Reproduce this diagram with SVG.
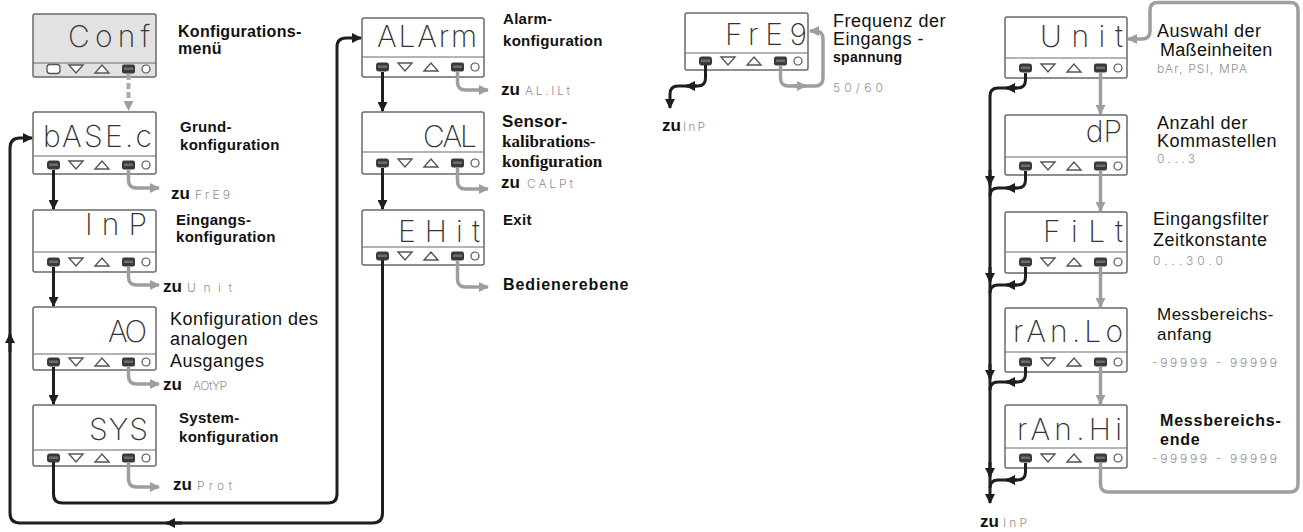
<svg xmlns="http://www.w3.org/2000/svg" xmlns:xlink="http://www.w3.org/1999/xlink" width="1303" height="532" viewBox="0 0 1303 532">
<style>
.box{fill:#fff;stroke:#6a6a6a;stroke-width:1.5}
.boxg{fill:#e2e2e2;stroke:#6a6a6a;stroke-width:1.5}
.dv{stroke:#6a6a6a;stroke-width:1.2}
.seg{font-family:Inter,"DejaVu Sans",sans-serif;font-weight:200;font-size:30px;fill:#333}
.lb{font-family:"Liberation Sans",Arial,sans-serif;font-weight:bold;font-size:15px;fill:#111;letter-spacing:0.3px}
.lr{font-family:"Liberation Sans",Arial,sans-serif;font-size:18px;fill:#111;letter-spacing:0.5px}
.ls{font-family:"Liberation Serif","Times New Roman",serif;font-weight:bold;font-size:17px;fill:#111}
.zu{font-family:"Liberation Sans",Arial,sans-serif;font-weight:bold;font-size:17px;fill:#111}
.gs{font-family:Inter,"DejaVu Sans",sans-serif;font-weight:300;font-size:12px;fill:#8f8f8f}
.k{fill:none;stroke:#1e1e1e;stroke-width:3}
.g{fill:none;stroke:#9e9e9e;stroke-width:3.5}
.tri{fill:#fff;stroke:#555;stroke-width:1.4}
.bt{fill:#3a3a3a}
</style>
<defs>
<marker id="ak" viewBox="0 0 10 10" refX="9" refY="5" markerWidth="11" markerHeight="10" markerUnits="userSpaceOnUse" orient="auto"><path d="M0,0 L10,5 L0,10 z" fill="#1e1e1e"/></marker>
<marker id="ag" viewBox="0 0 10 10" refX="9" refY="5" markerWidth="11" markerHeight="10" markerUnits="userSpaceOnUse" orient="auto"><path d="M0,0 L10,5 L0,10 z" fill="#9e9e9e"/></marker>
<g id="keys">
<path class="tri" d="M36,-4 L50,-4 L43,4 Z"/>
<path class="tri" d="M62,4 L76,4 L69,-4 Z"/>
<rect class="bt" x="89" y="-4.5" width="13" height="9" rx="2"/>
<rect x="91" y="-1.5" width="9" height="2.5" fill="#6e6e6e"/>
<circle cx="113" cy="0" r="4" fill="#fff" stroke="#555" stroke-width="1.2"/>
</g>
<g id="lkey">
<rect class="bt" x="14" y="-4.5" width="13" height="9" rx="3"/>
<rect x="16" y="-1.5" width="9" height="2.5" fill="#6e6e6e"/>
</g>
</defs>
<rect width="1303" height="532" fill="#fff"/>

<g id="n-conf">
<rect class="boxg" x="33" y="14" width="123" height="63" rx="2"/>
<line class="dv" x1="33" y1="63" x2="156" y2="63"/>
<text class="seg" x="68" y="47" textLength="82" lengthAdjust="spacing">Conf</text>
<rect x="47" y="64.5" width="13" height="9" rx="3" fill="#fff" stroke="#555" stroke-width="1.3"/>
<use xlink:href="#keys" x="33" y="69"/>
<text class="lb" x="178" y="37" style="font-size:16px">Konfigurations-</text>
<text class="lb" x="178" y="54" style="font-size:16px">menü</text>
</g>

<g id="n-base">
<rect class="box" x="33" y="112" width="123" height="62" rx="2"/>
<line class="dv" x1="33" y1="156" x2="156" y2="156"/>
<text class="seg" x="43" y="147" textLength="109" lengthAdjust="spacing">bASE.c</text>
<use xlink:href="#lkey" x="33" y="165"/><use xlink:href="#keys" x="33" y="165"/>
<text class="lb" x="180" y="132">Grund-</text>
<text class="lb" x="180" y="150">konfiguration</text>
<text class="zu" x="171" y="199">zu</text><text class="gs" x="195" y="199" textLength="35" lengthAdjust="spacing">FrE9</text>
</g>

<g id="n-inp">
<rect class="box" x="33" y="210" width="123" height="62" rx="2"/>
<line class="dv" x1="33" y1="252" x2="156" y2="252"/>
<text class="seg" x="85" y="235" textLength="62" lengthAdjust="spacing">InP</text>
<use xlink:href="#lkey" x="33" y="262"/><use xlink:href="#keys" x="33" y="262"/>
<text class="lb" x="176" y="225">Eingangs-</text>
<text class="lb" x="176" y="242">konfiguration</text>
<text class="zu" x="163" y="292">zu</text><text class="gs" x="187" y="292" textLength="45" lengthAdjust="spacing">Unit</text>
</g>

<g id="n-ao">
<rect class="box" x="33" y="307" width="123" height="63" rx="2"/>
<line class="dv" x1="33" y1="354" x2="156" y2="354"/>
<text class="seg" x="108" y="342" textLength="39" lengthAdjust="spacing">AO</text>
<use xlink:href="#lkey" x="33" y="362"/><use xlink:href="#keys" x="33" y="362"/>
<text class="lr" x="170" y="325">Konfiguration des</text>
<text class="lr" x="170" y="345">analogen</text>
<text class="lr" x="170" y="367">Ausganges</text>
<text class="zu" x="163" y="390">zu</text><text class="gs" x="193" y="390" textLength="34" lengthAdjust="spacing">AOtYP</text>
</g>

<g id="n-sys">
<rect class="box" x="33" y="405" width="123" height="61" rx="2"/>
<line class="dv" x1="33" y1="450" x2="156" y2="450"/>
<text class="seg" x="89" y="440" textLength="59" lengthAdjust="spacing">SYS</text>
<use xlink:href="#lkey" x="33" y="458"/><use xlink:href="#keys" x="33" y="458"/>
<text class="lb" x="179" y="423">System-</text>
<text class="lb" x="179" y="442">konfiguration</text>
<text class="zu" x="173" y="490">zu</text><text class="gs" x="197" y="490" textLength="35" lengthAdjust="spacing">Prot</text>
</g>

<g id="n-alarm">
<rect class="box" x="362" y="18" width="122" height="59" rx="2"/>
<line class="dv" x1="362" y1="57" x2="484" y2="57"/>
<text class="seg" x="377" y="47" textLength="100" lengthAdjust="spacing">ALArm</text>
<use xlink:href="#lkey" x="362" y="67"/><use xlink:href="#keys" x="362" y="67"/>
<text class="lb" x="503" y="24">Alarm-</text>
<text class="lb" x="503" y="46">konfiguration</text>
<text class="zu" x="501" y="95">zu</text><text class="gs" x="525" y="95" textLength="45" lengthAdjust="spacing">AL.ILt</text>
</g>

<g id="n-cal">
<rect class="box" x="362" y="112" width="122" height="62" rx="2"/>
<line class="dv" x1="362" y1="152" x2="484" y2="152"/>
<text class="seg" x="423" y="147" textLength="54" lengthAdjust="spacing">CAL</text>
<use xlink:href="#lkey" x="362" y="163"/><use xlink:href="#keys" x="362" y="163"/>
<text class="lb" x="502" y="127" style="font-size:17px">Sensor-</text>
<text class="ls" x="502" y="147">kalibrations-</text>
<text class="ls" x="502" y="167">konfiguration</text>
<text class="zu" x="501" y="188">zu</text><text class="gs" x="527" y="188" textLength="46" lengthAdjust="spacing">CALPt</text>
</g>

<g id="n-exit">
<rect class="box" x="362" y="210" width="122" height="55" rx="2"/>
<line class="dv" x1="362" y1="247" x2="484" y2="247"/>
<text class="seg" x="398" y="242" textLength="82" lengthAdjust="spacing">EHit</text>
<use xlink:href="#lkey" x="362" y="256"/><use xlink:href="#keys" x="362" y="256"/>
<text class="lb" x="503" y="225">Exit</text>
<text class="lb" x="503" y="290" style="font-size:16px;letter-spacing:0.9px">Bedienerebene</text>
</g>

<g id="n-freq">
<rect class="box" x="685" y="13" width="123" height="57" rx="2"/>
<line class="dv" x1="685" y1="53" x2="808" y2="53"/>
<text class="seg" x="725" y="45" textLength="82" lengthAdjust="spacing">FrE9</text>
<use xlink:href="#lkey" x="685" y="61"/><use xlink:href="#keys" x="685" y="61"/>
<text class="lr" x="833" y="27">Frequenz der</text>
<text class="lr" x="833" y="45">Eingangs -</text>
<text class="lb" x="833" y="62" style="font-size:14px">spannung</text>
<text class="gs" x="833" y="92" textLength="50" lengthAdjust="spacing">50/60</text>
<text class="zu" x="662" y="131">zu</text><text class="gs" x="683" y="131" textLength="22" lengthAdjust="spacing">InP</text>
</g>

<g id="n-unit">
<rect class="box" x="1005" y="17" width="122" height="61" rx="2"/>
<line class="dv" x1="1005" y1="58" x2="1127" y2="58"/>
<text class="seg" x="1040" y="47" textLength="83" lengthAdjust="spacing">Unit</text>
<use xlink:href="#lkey" x="1005" y="68"/><use xlink:href="#keys" x="1005" y="68"/>
<text class="lr" x="1157" y="37">Auswahl der</text>
<text class="lr" x="1160" y="56" style="letter-spacing:0.3px">Maßeinheiten</text>
<text class="gs" x="1157" y="73" textLength="90" lengthAdjust="spacing">bAr, PSI, MPA</text>
</g>

<g id="n-dp">
<rect class="box" x="1005" y="115" width="122" height="60" rx="2"/>
<line class="dv" x1="1005" y1="157" x2="1127" y2="157"/>
<text class="seg" x="1122" y="142" text-anchor="end">dP</text>
<use xlink:href="#lkey" x="1005" y="166"/><use xlink:href="#keys" x="1005" y="166"/>
<text class="lr" x="1157" y="129">Anzahl der</text>
<text class="lr" x="1157" y="147">Kommastellen</text>
<text class="gs" x="1157" y="163" textLength="38" lengthAdjust="spacing">0...3</text>
</g>

<g id="n-filt">
<rect class="box" x="1005" y="212" width="122" height="61" rx="2"/>
<line class="dv" x1="1005" y1="252" x2="1127" y2="252"/>
<text class="seg" x="1043" y="242" textLength="80" lengthAdjust="spacing">FiLt</text>
<use xlink:href="#lkey" x="1005" y="262"/><use xlink:href="#keys" x="1005" y="262"/>
<text class="lr" x="1153" y="225">Eingangsfilter</text>
<text class="lr" x="1153" y="246">Zeitkonstante</text>
<text class="gs" x="1153" y="265" textLength="70" lengthAdjust="spacing">0...30.0</text>
</g>

<g id="n-ranlo">
<rect class="box" x="1005" y="308" width="122" height="64" rx="2"/>
<line class="dv" x1="1005" y1="352" x2="1127" y2="352"/>
<text class="seg" x="1013" y="342" textLength="110" lengthAdjust="spacing">rAn.Lo</text>
<use xlink:href="#lkey" x="1005" y="362"/><use xlink:href="#keys" x="1005" y="362"/>
<text class="lr" x="1157" y="320" style="font-size:17px">Messbereichs-</text>
<text class="lr" x="1157" y="340" style="font-size:17px">anfang</text>
<text class="gs" x="1152" y="367" textLength="125" lengthAdjust="spacing">-99999 - 99999</text>
</g>

<g id="n-ranhi">
<rect class="box" x="1005" y="405" width="122" height="63" rx="2"/>
<line class="dv" x1="1005" y1="448" x2="1127" y2="448"/>
<text class="seg" x="1017" y="440" textLength="105" lengthAdjust="spacing">rAn.Hi</text>
<use xlink:href="#lkey" x="1005" y="458"/><use xlink:href="#keys" x="1005" y="458"/>
<text class="lb" x="1160" y="426" style="font-size:16px;letter-spacing:0.8px">Messbereichs-</text>
<text class="lb" x="1160" y="445" style="font-size:16px;letter-spacing:0.8px">ende</text>
<text class="gs" x="1152" y="463" textLength="125" lengthAdjust="spacing">-99999 - 99999</text>
<text class="zu" x="980" y="527">zu</text><text class="gs" x="1003" y="527" textLength="24" lengthAdjust="spacing">InP</text>
</g>

<g id="connectors">
<path d="M128.5 74 V110" fill="none" stroke="#aaa" stroke-width="4" stroke-dasharray="6 3" marker-end="url(#ag)"/>
<path class="k" d="M53.5 170 V209" marker-end="url(#ak)"/>
<path class="k" d="M53.5 267 V306" marker-end="url(#ak)"/>
<path class="k" d="M53.5 367 V404" marker-end="url(#ak)"/>
<path class="k" d="M53.5 462 V494 Q53.5 503 62.5 503 H328 Q337 503 337 494 V47 Q337 38 346 38 H361" marker-end="url(#ak)"/>
<path class="k" d="M382.5 72 V111" marker-end="url(#ak)"/>
<path class="k" d="M382.5 168 V209" marker-end="url(#ak)"/>
<path class="k" d="M382.5 260 V513 Q382.5 523 372.5 523 H20 Q10 523 10 513 V148 Q10 138 20 138 H32" marker-end="url(#ak)"/>
<path class="k" d="M182 523 H166" marker-end="url(#ak)"/>
<path class="k" d="M10 352 V334" marker-end="url(#ak)"/>
<path class="g" d="M128.5 170 V180 Q128.5 188 136.5 188 H159" marker-end="url(#ag)"/>
<path class="g" d="M128.5 267 V277 Q128.5 285 136.5 285 H159" marker-end="url(#ag)"/>
<path class="g" d="M128.5 367 V376 Q128.5 384 136.5 384 H159" marker-end="url(#ag)"/>
<path class="g" d="M128.5 462 V479 Q128.5 487 136.5 487 H159" marker-end="url(#ag)"/>
<path class="g" d="M457.5 72 V82 Q457.5 90 465.5 90 H488" marker-end="url(#ag)"/>
<path class="g" d="M457.5 168 V181 Q457.5 189 465.5 189 H488" marker-end="url(#ag)"/>
<path class="g" d="M457.5 260 V279 Q457.5 287 465.5 287 H488" marker-end="url(#ag)"/>
<path class="k" d="M705.5 65 V78 Q705.5 86 697.5 86 H678 Q670 86 670 94 V108" marker-end="url(#ak)"/>
<path class="k" d="M697 86 H686" marker-end="url(#ak)"/>
<path class="g" d="M780.5 65 V78 Q780.5 86 788.5 86 H815 Q823 86 823 78 V39 Q823 31 815 31 H810" marker-end="url(#ag)"/>
<path class="g" d="M793 86 H806" marker-end="url(#ag)"/>
<path class="k" d="M1025.5 73 V80 Q1025.5 88 1017.5 88 H998 Q990 88 990 96 V503" marker-end="url(#ak)"/>
<path class="k" d="M1017 88 H1006" marker-end="url(#ak)"/>
<path class="k" d="M1025.5 171 V180 Q1025.5 188 1017.5 188 H998 Q990 188 990 196"/>
<path class="k" d="M1017 188 H1006" marker-end="url(#ak)"/>
<path class="k" d="M990 170 V185" marker-end="url(#ak)"/>
<path class="k" d="M1025.5 267 V277 Q1025.5 285 1017.5 285 H998 Q990 285 990 293"/>
<path class="k" d="M1017 285 H1006" marker-end="url(#ak)"/>
<path class="k" d="M990 267 V282" marker-end="url(#ak)"/>
<path class="k" d="M1025.5 367 V374 Q1025.5 382 1017.5 382 H998 Q990 382 990 390"/>
<path class="k" d="M1017 382 H1006" marker-end="url(#ak)"/>
<path class="k" d="M990 364 V379" marker-end="url(#ak)"/>
<path class="k" d="M1025.5 463 V472 Q1025.5 480 1017.5 480 H998 Q990 480 990 488"/>
<path class="k" d="M1017 480 H1006" marker-end="url(#ak)"/>
<path class="k" d="M990 462 V477" marker-end="url(#ak)"/>
<path class="g" d="M1100.5 73 V114" marker-end="url(#ag)"/>
<path class="g" d="M1100.5 171 V211" marker-end="url(#ag)"/>
<path class="g" d="M1100.5 267 V307" marker-end="url(#ag)"/>
<path class="g" d="M1100.5 367 V404" marker-end="url(#ag)"/>
<path class="g" d="M1100.5 463 V484 Q1100.5 492 1108.5 492 H1290 Q1298 492 1298 484 V10 Q1298 2.5 1290 2.5 H1158 Q1150 2.5 1150 10 V31 Q1150 39 1142 39 H1128" marker-end="url(#ag)"/>
</g>
</svg>
